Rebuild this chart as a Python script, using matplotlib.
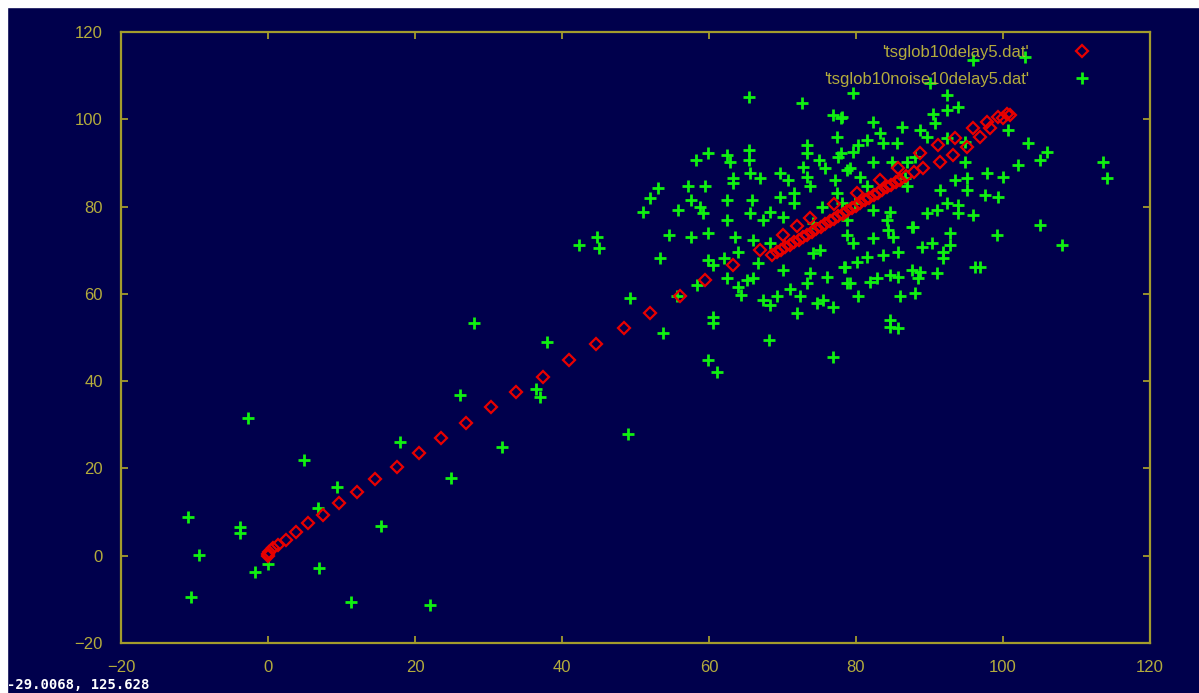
import numpy as np
import matplotlib.pyplot as plt
from matplotlib.patches import Rectangle

# serie sin ruido: x(t) contra x(t+5)
delay_x = [0, 0, 0.2, 0.7, 1.3, 2.4, 3.8, 5.4, 7.5, 9.6, 12.1, 14.5, 17.5, 20.5, 23.5,
           26.9, 30.3, 33.7, 37.4, 40.9, 44.6, 48.4, 52, 56.1, 59.5, 63.2, 67,
           68.6, 69.2, 69.8, 70.4, 71, 71.6, 72.2, 72.8, 73.4, 74, 74.6, 75.2, 75.8, 76.4,
           77, 77.6, 78.2, 78.8, 79.4, 80, 80.6, 81.2, 81.8, 82.4, 83, 83.6, 84.2, 84.8,
           85.4, 86, 86.8, 87.9, 89.1, 91.4, 93.2, 95.1, 96.9, 98.2, 100, 101,
           70.1, 72, 73.8, 77, 80.2, 83.3, 85.7, 88.7, 91.2, 93.5, 95.9, 97.8, 99.3, 100.5]
delay_y = [0, 0.5, 0.9, 1.8, 2.5, 3.7, 5.5, 7.6, 9.4, 12.1, 14.7, 17.6, 20.4, 23.6, 27,
           30.5, 34.1, 37.4, 41, 44.9, 48.4, 52.2, 55.7, 59.4, 63.2, 66.7, 70.1,
           69, 69.5, 70.1, 70.7, 71.3, 71.9, 72.4, 73, 73.6, 74.2, 74.8, 75.4, 76, 76.6,
           77.2, 77.8, 78.4, 79, 79.6, 80.2, 80.8, 81.4, 82, 82.6, 83.2, 83.8, 84.4, 85,
           85.6, 86.2, 86.9, 87.9, 88.9, 90.3, 91.9, 93.7, 96, 98, 100.4, 101,
           73.6, 75.5, 77.4, 80.5, 83.2, 86.2, 88.9, 92.3, 94.2, 95.8, 98, 99.4, 100.6, 101.2]

# serie con ruido (x, y)
noise_pts = [
    (-10.9, 8.9), (-10.5, -9.4), (-9.4, 0.2), (-3.8, 6.6), (-3.8, 5.2), (-2.7, 31.6),
    (-1.8, -3.8), (0, -2), (4.9, 22), (6.8, 11), (6.9, -2.8), (9.4, 15.8), (11.3, -10.6),
    (15.4, 6.9), (17.9, 26.1), (22, -11.2), (24.9, 17.9), (26.1, 36.9), (28, 53.4),
    (31.9, 25), (36.5, 38.3), (37, 36.4), (38, 49), (42.3, 71.3), (44.7, 73.1), (45, 70.6),
    (49, 28),
    (54.5, 73.5), (57.5, 73), (59.8, 74), (53.4, 68.3), (49.3, 59.1), (53.7, 51.1),
    (55.7, 59.4), (58.4, 62.1), (60.5, 54.8), (60.5, 53.4), (59.8, 44.9), (61.1, 42.2),
    (59.8, 67.8), (60.6, 66.7), (62, 68.3), (62.5, 63.7), (63.6, 73.1), (64, 69.7),
    (63.9, 61.6), (64.3, 59.8), (65.2, 63.2), (66, 63.7), (66, 72.4), (67.3, 58.7),
    (68.3, 57.5), (69.3, 59.4), (68.1, 49.5), (66.7, 67.1), (68.3, 71.7), (70.1, 65.5),
    (71, 61), (72, 55.7), (72.4, 59.4), (73.4, 62.6), (73.8, 64.8), (74.7, 58),
    (75.5, 58.7), (76.1, 63.9), (76.9, 57.1), (76.9, 45.6), (74.2, 69.4), (75.1, 70.1),
    (78.3, 66.2), (78.8, 62.6),
    (65.4, 105.2), (72.7, 103.8), (76.9, 101), (77.9, 100.4), (77.4, 96), (73.4, 94.2),
    (73.4, 92.3), (77.6, 91.4), (74.9, 90.7), (75.8, 88.9), (58.2, 90.7), (59.9, 92.3),
    (62.5, 91.9), (62.9, 90.3), (65.4, 93), (65.4, 90.7), (65.6, 87.8), (67, 86.6),
    (63.2, 86.6), (63.3, 85.5), (69.7, 87.8), (70.7, 86.2), (72.8, 89.1), (73.4, 86.8),
    (73.8, 84.6), (71.5, 83.2), (77.2, 86.2), (78.8, 88.4), (53, 84.3), (52, 82),
    (51, 78.8), (57.2, 84.6), (59.5, 84.6), (55.8, 79.3), (57.5, 81.6), (58.8, 80),
    (59.2, 78.6), (62.5, 81.6), (62.5, 77), (65.9, 81.6), (65.6, 78.6), (67.3, 77),
    (68.3, 78.8), (69.7, 82.3), (70.1, 77.7), (71.5, 80.9), (74.2, 76.3), (75.4, 80),
    (77.4, 83.2),
    (79.6, 106.1), (92.4, 105.6), (93.9, 102.9), (92.4, 102.2), (90.5, 101.1), (90.8, 99.2),
    (82.3, 99.4), (78.1, 100.6), (83.3, 96.9), (86.3, 98.3), (88.7, 97.6), (89.7, 96),
    (81.5, 95.3), (80.3, 94.2), (83.7, 94.6), (85.6, 94.6), (92.4, 95.8), (94.8, 94.9),
    (100.7, 97.6), (103.4, 94.6), (106, 92.6), (105, 90.7), (102, 89.6), (113.6, 90.3),
    (114.1, 86.6), (79.6, 92.6), (77.9, 92.3), (79.2, 88.9), (82.3, 90.1), (84.9, 90.3),
    (87, 90.1), (88, 91.4), (80.6, 86.8), (81.5, 84.6), (86.7, 86.6), (87, 84.6),
    (94.8, 90.3), (95.1, 86.6), (93.5, 86.2), (97.8, 87.8), (100, 86.8), (91.4, 83.9),
    (95.1, 83.9), (97.6, 82.7), (99.3, 82.3), (92.4, 80.9), (93.9, 80.4), (91, 79.3),
    (95.9, 78.1), (93.9, 78.6), (89.7, 78.6), (87.8, 75.4), (105, 75.8), (84.6, 78.8),
    (84.2, 77), (82.3, 79.3), (78.1, 80.9), (79.9, 80.9), (78.8, 77),
    (95.9, 113.5), (103, 114.3), (90.1, 108.4),
    (99.2, 73.6), (108, 71.3), (96.2, 66.2), (96.9, 66.2), (92.8, 74), (91.8, 69.7),
    (91.8, 68.3), (92.8, 71.3), (90.4, 71.7), (89, 70.8), (87.6, 75.4), (85.7, 69.7),
    (83.7, 69), (82.3, 72.9), (85.1, 73.1), (84.4, 74.7), (79.6, 71.7), (78.8, 73.6),
    (81.5, 68.5), (80.2, 67.4), (78.5, 66.2), (82.9, 63.7), (84.6, 64.4), (85.7, 63.9),
    (87.6, 65.5), (88.7, 65.1), (91, 64.8), (88.5, 63.7), (79.2, 62.6), (81.9, 62.8),
    (80.3, 59.4), (86, 59.4), (88, 60.3), (84.6, 54.1), (84.6, 52.5), (85.7, 52.2),
]
noise_x = [p[0] for p in noise_pts]
noise_y = [p[1] for p in noise_pts]

ticks = [-20, 0, 20, 40, 60, 80, 100, 120]

fondo = '#00004c'
borde = '#a39c2c'
texto = '#b4ac3c'

fig = plt.figure(figsize=(11.99, 6.93), dpi=100, facecolor=fondo)
# franja blanca arriba y a la izquierda (captura de pantalla)
fig.patches.append(Rectangle((0, 1 - 7 / 693), 1, 7 / 693, transform=fig.transFigure,
                             color='white', zorder=0))
fig.patches.append(Rectangle((0, 0), 7 / 1199, 1, transform=fig.transFigure,
                             color='white', zorder=0))

ax = fig.add_axes([121 / 1199, 50 / 693, 1029 / 1199, 611 / 693])
ax.set_facecolor(fondo)

l1, = ax.plot(delay_x, delay_y, linestyle='none', marker='D', markersize=6.5,
              markerfacecolor='none', markeredgecolor='#e80000', markeredgewidth=1.6,
              zorder=4, label="'tsglob10delay5.dat'")
l2, = ax.plot(noise_x, noise_y, linestyle='none', marker='+', markersize=8.5,
              markeredgecolor='#10f010', markeredgewidth=2.0, zorder=3,
              label="'tsglob10noise10delay5.dat'")

ax.set_xlim(-20, 120)
ax.set_ylim(-20, 120)
ax.set_xticks(ticks)
ax.set_yticks(ticks)
ax.tick_params(direction='in', length=5, width=1.3, color=borde, labelcolor=texto,
               labelsize=12, pad=13, top=True, right=True)
ax.tick_params(axis='x', pad=12)
for lab in ax.get_xticklabels() + ax.get_yticklabels():
    lab.set_family('Liberation Sans')
for s in ax.spines.values():
    s.set_color(borde)
    s.set_linewidth(1.6)

leg = ax.legend(handles=[l1, l2], loc='upper right', bbox_to_anchor=(0.957, 0.990),
                markerfirst=False, frameon=False, numpoints=1, handlelength=2,
                handletextpad=2.2, labelspacing=0.75, borderaxespad=0,
                prop={'family': 'Liberation Sans', 'size': 12})
for t in leg.get_texts():
    t.set_color(texto)

# coordenadas del cursor (esquina inferior izquierda)
fig.text(7 / 1199, 1 / 693, '-29.0068, 125.628', color='white', fontsize=10,
         family='DejaVu Sans Mono', weight='bold', va='bottom', ha='left')

plt.savefig('out.png', dpi=100, facecolor=fondo)
